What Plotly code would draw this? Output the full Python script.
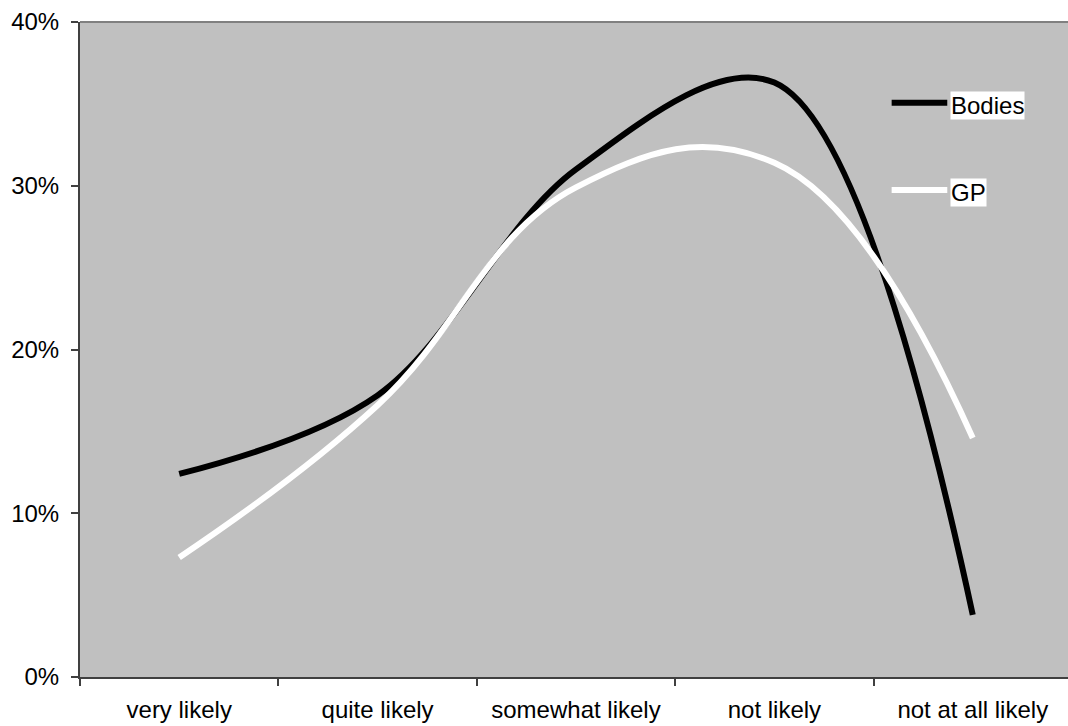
import plotly.graph_objects as go

categories = ["very likely", "quite likely", "somewhat likely", "not likely", "not at all likely"]
bodies = [12.4, 17.2, 31.0, 36.3, 3.8]
gp = [7.3, 16.6, 29.9, 31.4, 14.6]
y_ticks = [0, 10, 20, 30, 40]
y_tick_labels = ["0%", "10%", "20%", "30%", "40%"]
series_names = ["Bodies", "GP"]

FONT = "Liberation Sans, Arial, sans-serif"
AXIS_COL = "#404040"

fig = go.Figure()
fig.add_trace(go.Scatter(x=categories, y=bodies, mode="lines", name=series_names[0],
                         line=dict(color="black", width=6, shape="spline", smoothing=1.0),
                         showlegend=False))
fig.add_trace(go.Scatter(x=categories, y=gp, mode="lines", name=series_names[1],
                         line=dict(color="white", width=6, shape="spline", smoothing=1.2),
                         showlegend=False))

xr = [-0.5, 4.48]

# custom legend (inside plot, right side)
leg_items = [(series_names[0], "black", 0.8768, 0.8721), (series_names[1], "white", 0.7435, 0.7397)]
for name, col, yl, yt in leg_items:
    fig.add_shape(type="line", xref="paper", yref="paper", x0=0.8215, x1=0.8778, y0=yl, y1=yl,
                  line=dict(color=col, width=6))
    fig.add_annotation(xref="paper", yref="paper", x=0.8806, y=yt, xanchor="left", yanchor="middle",
                       text=name, showarrow=False, bgcolor="white", borderpad=0,
                       font=dict(family=FONT, size=24, color="black"))

# top border of the plot area
fig.add_shape(type="line", xref="paper", yref="paper", x0=0, x1=1, y0=1, y1=1,
              line=dict(color="#808080", width=2))

fig.update_layout(
    width=1068, height=726,
    margin=dict(l=80, r=0, t=22, b=49),
    paper_bgcolor="white", plot_bgcolor="#C0C0C0",
    font=dict(family=FONT, size=24, color="black"),
    xaxis=dict(type="category", range=xr, tickson="boundaries", ticks="outside", ticklen=7,
               tickwidth=1.5, tickcolor=AXIS_COL, showline=True, linecolor=AXIS_COL, linewidth=2,
               showgrid=False, zeroline=False, tickfont=dict(size=24, family=FONT),
               ticklabelstandoff=10),
    xaxis2=dict(type="linear", range=xr, overlaying="x", anchor="y", side="bottom",
                tickvals=[-0.5, 0.5, 1.5, 2.5, 3.5], ticks="inside", ticklen=7, tickwidth=1.5,
                tickcolor=AXIS_COL, showticklabels=False, showgrid=False, zeroline=False,
                showline=False),
    yaxis=dict(range=[0, 40], tickvals=y_ticks, ticktext=y_tick_labels, ticks="outside", ticklen=7,
               tickwidth=1.5, tickcolor=AXIS_COL, showline=True, linecolor=AXIS_COL, linewidth=2,
               showgrid=False, zeroline=False, tickfont=dict(size=24, family=FONT),
               ticklabelstandoff=7),
)

fig.write_html("out.html")
